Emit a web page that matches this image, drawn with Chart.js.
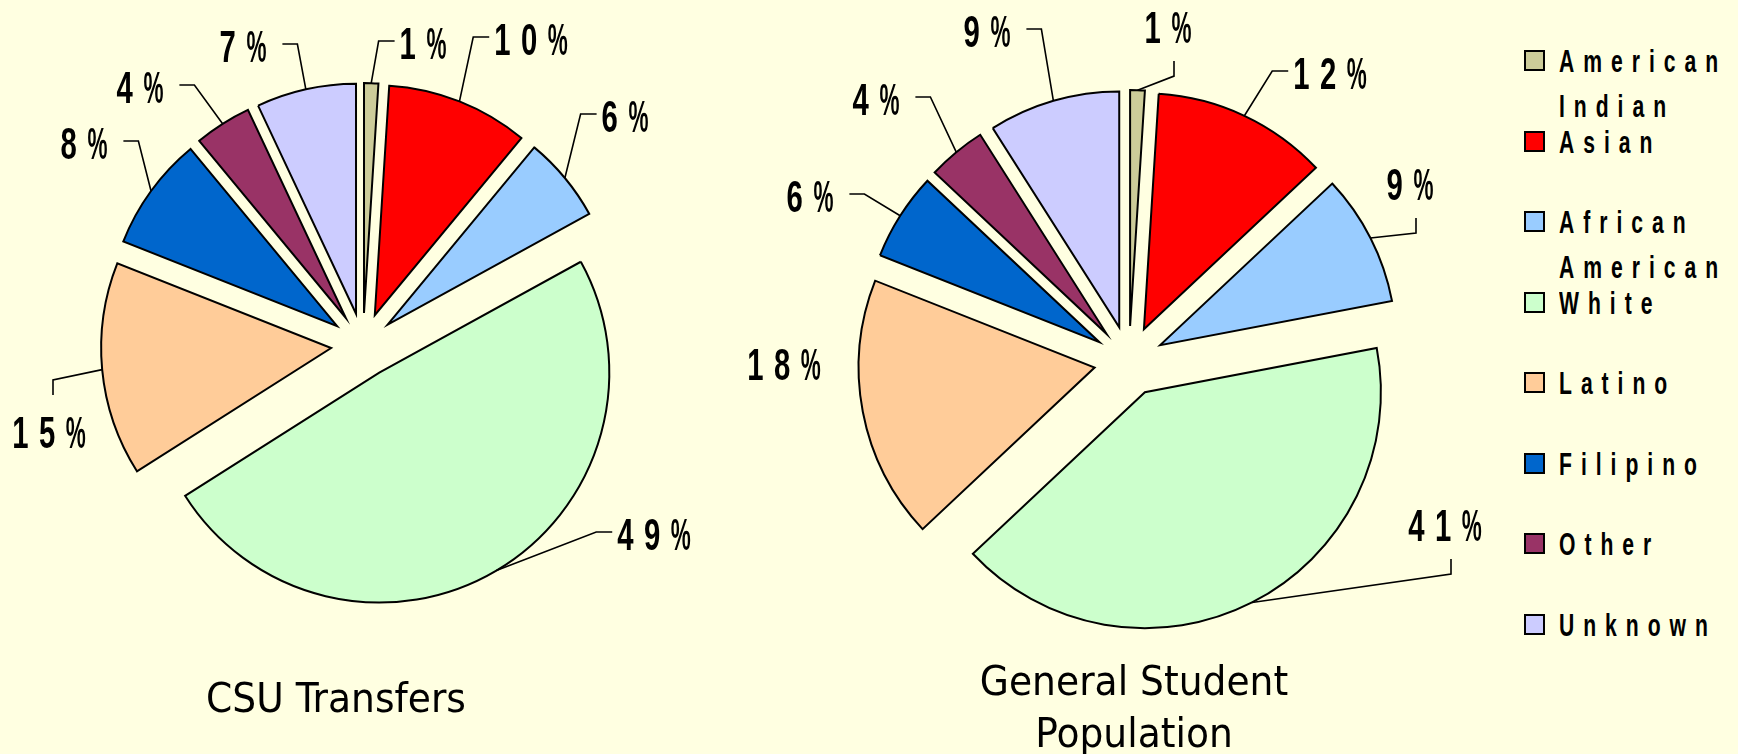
<!DOCTYPE html>
<html>
<head>
<meta charset="utf-8">
<script src="https://cdn.jsdelivr.net/npm/chart.js@4.4.1/dist/chart.umd.min.js"></script>
<style>
  html, body { margin: 0; padding: 0; background: #FFFFE1; }
  #stage { position: relative; width: 1738px; height: 754px; overflow: hidden; background: #FFFFE1; }
  canvas { position: absolute; top: 0; }
  .title {
    position: absolute; width: 600px; text-align: center;
    font: 41px "DejaVu Sans Condensed", "DejaVu Sans", sans-serif;
    line-height: 52px; color: #000; transform: scaleX(1.02); transform-origin: center;
  }
  #legend { position: absolute; left: 1524px; top: 39.4px; }
  .row { position: relative; height: 80.5px; }
  .key { position: absolute; left: 0; top: 11px; width: 17px; height: 17px; border: 2px solid #000; }
  .txt {
    position: absolute; left: 35px; top: 0; width: 270px;
    font: bold 32px "Liberation Sans", Arial, sans-serif; line-height: 45px;
    letter-spacing: 13.6px; transform: scaleX(0.66); transform-origin: left top; white-space: normal;
  }
</style>
</head>
<body>
<div id="stage">
  <canvas id="csu" width="726" height="690" style="left:0px"></canvas>
  <canvas id="gen" width="768" height="722" style="left:745px"></canvas>
  <div class="title" style="left:36px; top:672px">CSU Transfers</div>
  <div class="title" style="left:834px; top:655px">General Student<br>Population</div>
  <div id="legend"></div>
</div>
<script>
// data
const categories = ['American Indian', 'Asian', 'African American', 'White', 'Latino', 'Filipino', 'Other', 'Unknown'];
const csuTransfers = [1, 10, 6, 49, 15, 8, 4, 7];
const generalPopulation = [1, 12, 9, 41, 18, 6, 4, 9];
const sliceColors = ['#CCCC99', '#FF0000', '#99CCFF', '#CCFFCC', '#FFCC99', '#0066CC', '#993366', '#CCCCFF'];

// label placement (offset from pie centre) and which side the leader leaves from
const csuLabelSpots = [[60, -302], [168, -306], [262, -229], [291, 189], [-314, 87], [-279, -202], [-223, -258], [-120, -299]];
const csuLeaderSides = ['l', 'l', 'l', 'l', 't', 'r', 'r', 'r'];
const genLabelSpots = [[39, -334], [201, -288], [281, -177], [316, 164], [-345, 3], [-319, -165], [-253, -262], [-142, -330]];
const genLeaderSides = ['b', 'l', 'b', 'b', null, 'r', 'r', 'r'];

// tall squeezed bold digits, the % sign squeezed a bit more
const labelFont = { size: 45, family: '"Liberation Sans", Arial, sans-serif', digitScale: 0.65, pctScale: 0.5, spacing: 10.5 };

function drawSpaced(ctx, text, cx, cy, f) {
  ctx.save();
  ctx.font = `bold ${f.size}px ${f.family}`;
  const chars = text.split('');
  const scales = chars.map(ch => ch === '%' ? f.pctScale : f.digitScale);
  const widths = chars.map((ch, i) => ctx.measureText(ch).width * scales[i]);
  const total = widths.reduce((a, b) => a + b, 0) + f.spacing * (chars.length - 1);
  let x = cx - total / 2;
  const base = cy + f.size * 0.358;
  ctx.fillStyle = '#000';
  ctx.textBaseline = 'alphabetic';
  chars.forEach((ch, i) => {
    ctx.save();
    ctx.translate(x, base);
    ctx.scale(scales[i], 1);
    ctx.fillText(ch, 0, 0);
    ctx.restore();
    x += widths[i] + f.spacing;
  });
  ctx.restore();
  const half = f.size * 0.358;
  return { left: cx - total / 2, right: cx + total / 2, top: cy - half, bottom: cy + half };
}

// pull every slice out from the centre along its own mid angle
const explodePlugin = {
  id: 'explode',
  beforeDatasetsDraw(chart, args, opts) {
    const area = chart.chartArea;
    const cx = (area.left + area.right) / 2;
    const cy = (area.top + area.bottom) / 2;
    chart.getDatasetMeta(0).data.forEach(arc => {
      const mid = (arc.startAngle + arc.endAngle) / 2;
      arc.x = cx + Math.cos(mid) * opts.distance;
      arc.y = cy + Math.sin(mid) * opts.distance;
    });
  }
};

const pctLabelPlugin = {
  id: 'pctLabels',
  afterDatasetsDraw(chart, args, opts) {
    const ctx = chart.ctx;
    const area = chart.chartArea;
    const cx = (area.left + area.right) / 2;
    const cy = (area.top + area.bottom) / 2;
    const values = chart.data.datasets[0].data;
    chart.getDatasetMeta(0).data.forEach((arc, i) => {
      const mid = (arc.startAngle + arc.endAngle) / 2;
      const ax = arc.x + Math.cos(mid) * arc.outerRadius;
      const ay = arc.y + Math.sin(mid) * arc.outerRadius;
      const lx = cx + opts.spots[i][0];
      const ly = cy + opts.spots[i][1];
      const box = drawSpaced(ctx, values[i] + '%', lx, ly, labelFont);
      const side = opts.sides[i];
      if (!side) return;
      let s, e;
      if (side === 'l') { s = [box.left - 5, ly - 2]; e = [s[0] - 16, s[1]]; }
      if (side === 'r') { s = [box.right + 16, ly - 2]; e = [s[0] + 15, s[1]]; }
      if (side === 't') { s = [lx + 4, box.top - 21]; e = [s[0], s[1] - 15]; }
      if (side === 'b') { s = [lx + 6, box.bottom + 18]; e = [s[0], s[1] + 15]; }
      ctx.save();
      ctx.strokeStyle = '#000';
      ctx.lineWidth = 1.6;
      ctx.beginPath();
      ctx.moveTo(s[0], s[1]);
      ctx.lineTo(e[0], e[1]);
      ctx.lineTo(ax, ay);
      ctx.stroke();
      ctx.restore();
    });
  }
};

function makePie(id, values, radius, distance, spots, sides) {
  return new Chart(document.getElementById(id), {
    type: 'pie',
    data: {
      labels: categories,
      datasets: [{
        data: values,
        backgroundColor: sliceColors,
        borderColor: '#000',
        borderWidth: 2,
        borderJoinStyle: 'miter'
      }]
    },
    options: {
      responsive: false,
      devicePixelRatio: 1,
      animation: false,
      events: [],
      radius: radius,
      layout: { padding: 0 },
      plugins: {
        legend: { display: false },
        tooltip: { enabled: false },
        title: { display: false },
        explode: { distance: distance },
        pctLabels: { spots: spots, sides: sides }
      }
    },
    plugins: [explodePlugin, pctLabelPlugin]
  });
}

makePie('csu', csuTransfers, 230, 32, csuLabelSpots, csuLeaderSides);
makePie('gen', generalPopulation, 236, 35, genLabelSpots, genLeaderSides);

// legend built from the same categories and colours
const legend = document.getElementById('legend');
categories.forEach((name, i) => {
  const row = document.createElement('div');
  row.className = 'row';
  const key = document.createElement('div');
  key.className = 'key';
  key.style.background = sliceColors[i];
  const txt = document.createElement('div');
  txt.className = 'txt';
  txt.textContent = name;
  row.appendChild(key);
  row.appendChild(txt);
  legend.appendChild(row);
});
</script>
</body>
</html>
